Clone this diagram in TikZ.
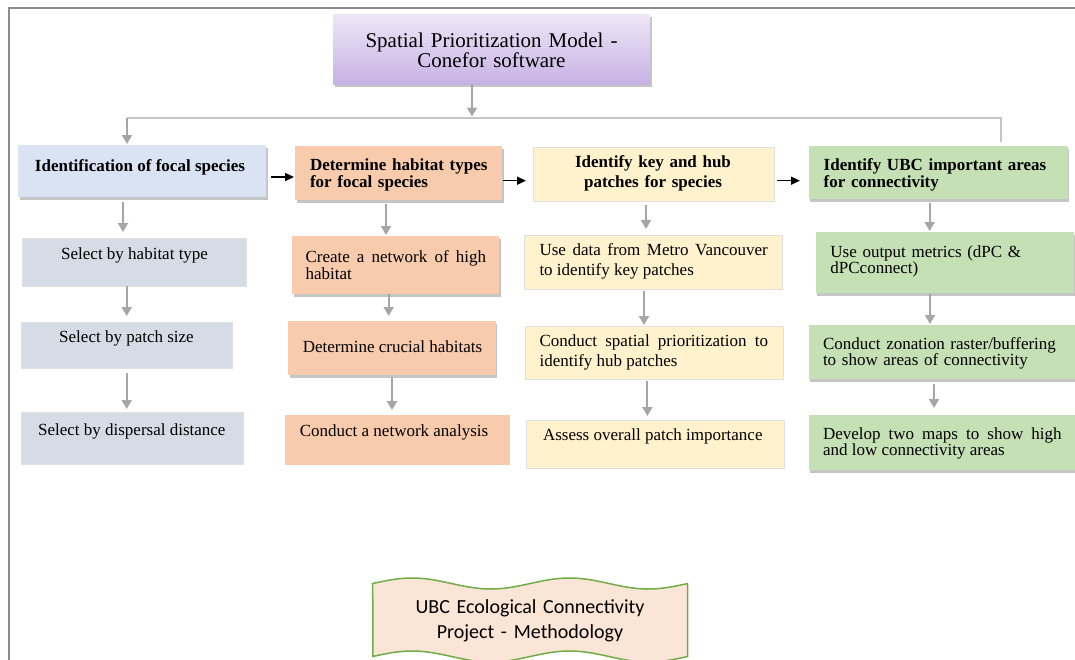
\documentclass[tikz,border=0pt]{standalone}
\usepackage{fontspec}
\setmainfont{Liberation Serif}
\newfontfamily\carlito{Carlito}
\usetikzlibrary{arrows.meta,shadows,fit}
\definecolor{blueH}{RGB}{218,227,243}
\definecolor{blueS}{RGB}{214,220,229}
\definecolor{orangeB}{RGB}{248,203,173}
\definecolor{yellowB}{RGB}{255,242,204}
\definecolor{greenB}{RGB}{197,224,180}
\definecolor{topT}{RGB}{238,231,247}
\definecolor{topB}{RGB}{199,178,228}
\definecolor{arrowgray}{RGB}{166,166,166}
\definecolor{linegray}{RGB}{196,196,196}
\definecolor{framegray}{RGB}{140,140,140}
\definecolor{waveFill}{RGB}{251,229,214}
\definecolor{waveLine}{RGB}{112,173,71}
\tikzset{
  box/.style={rectangle, inner sep=0pt, outer sep=0pt},
  shd/.style={drop shadow={shadow xshift=1.5pt, shadow yshift=-3pt, fill=black!45, opacity=0.5}},
  lightedge/.style={draw=black!12, line width=0.8pt},
  txt/.style={inner sep=0pt, outer sep=0pt, font=\fontsize{17}{15.3}\selectfont},
  garrow/.style={draw=arrowgray, line width=2pt, -{Triangle[width=10pt,length=9pt]}},
  barrow/.style={draw=black, line width=1.4pt, -{Triangle[width=8pt,length=9pt]}},
  gline/.style={draw=linegray, line width=1.5pt},
  framestyle/.style={draw=framegray, line width=2.2pt},
  wavestyle/.style={fill=waveFill, draw=waveLine, line width=1.5pt},
}
\begin{document}
\begin{tikzpicture}[x=1pt,y=-1pt]
\useasboundingbox (0,0) rectangle (1075,659);

% outer frame
\draw[framestyle] (9,670) -- (9,8) -- (1085,8);

% top box
\node[box, shd, top color=topT, bottom color=topB, fit={(333,14) (650,84)}] (top) {};
\node[txt, font=\fontsize{21}{16.7}\selectfont, anchor=base, text width=310pt, align=center] (ttop) at (491.5,47.3) {Spatial Prioritization Model -\\Conefor software};

% row 1 headers
\node[box, shd, fill=blueH, fit={(18.3,145) (266,197)}] (b1) {};
\node[box, shd, fill=orangeB, fit={(295,146) (502,200)}] (o1) {};
\node[box, lightedge, fill=yellowB, fit={(533.5,147) (774,201)}] (y1) {};
\node[box, shd, fill=greenB, fit={(808.5,146) (1067.7,199)}] (g1) {};

\node[txt, anchor=base] (tb1) at (140,171.7) {\bfseries Identification of focal species};
\node[txt, anchor=base west, text width=190pt, align=left] (to1) at (310,170.7) {\bfseries Determine habitat types\\for focal species};
\node[txt, font=\fontsize{17}{20}\selectfont, anchor=base, text width=230pt, align=center] (ty1) at (653,167) {\bfseries Identify key and hub\\patches for species};
\node[txt, anchor=base west, text width=240pt, align=left] (tg1) at (823.7,170.7) {\bfseries Identify UBC important areas\\for connectivity};

% row 2
\node[box, lightedge, fill=blueS, fit={(22.6,238) (246.6,286)}] (s1) {};
\node[box, shd, fill=orangeB, fit={(292,236) (499,294)}] (o2) {};
\node[box, lightedge, fill=yellowB, fit={(524,235) (782,289)}] (y2) {};
\node[box, shd, fill=greenB, fit={(815.6,232) (1074,293)}] (g2) {};

\node[txt, anchor=base] (ts1) at (134.6,259.3) {Select by habitat type};
\node[txt, font=\fontsize{17}{15}\selectfont, anchor=base west, text width=180.5pt, align=justify] (to2) at (305.5,262.7) {Create a network of high\linebreak habitat};
\node[txt, font=\fontsize{17}{20}\selectfont, anchor=base west, text width=228.3pt, align=justify] (ty2) at (539.5,255) {Use data from Metro Vancouver\linebreak to identify key patches};
\node[txt, font=\fontsize{17}{14.4}\selectfont, anchor=base west, text width=235pt, align=left] (tg2) at (830.4,257.3) {Use output metrics (dPC \&\\dPCconnect)};

% row 3
\node[box, lightedge, fill=blueS, fit={(21,322) (232,368)}] (s2) {};
\node[box, shd, fill=orangeB, fit={(288,321) (495.5,375)}] (o3) {};
\node[box, lightedge, fill=yellowB, fit={(525,326) (783.7,379)}] (y3) {};
\node[box, shd, fill=greenB, fit={(808.5,325) (1080,379)}] (g3) {};

\node[txt, anchor=base] (ts2) at (126.5,342.3) {Select by patch size};
\node[txt, anchor=base] (to3) at (392.5,352.7) {Determine crucial habitats};
\node[txt, font=\fontsize{17}{20}\selectfont, anchor=base west, text width=228.4pt, align=justify] (ty3) at (539.6,346) {Conduct spatial prioritization to\linebreak identify hub patches};
\node[txt, font=\fontsize{17}{15}\selectfont, anchor=base west, text width=245pt, align=left] (tg3) at (823,349.3) {Conduct zonation raster/buffering\\to show areas of connectivity};

% row 4
\node[box, lightedge, fill=blueS, fit={(21,412) (243,464)}] (s3) {};
\node[box, fill=orangeB, fit={(285,415) (510,465)}] (o4) {};
\node[box, lightedge, fill=yellowB, fit={(526.4,420) (784.8,468)}] (y4) {};
\node[box, shd, fill=greenB, fit={(808.5,415) (1080,470)}] (g4) {};

\node[txt, anchor=base] (ts3) at (131.8,435) {Select by dispersal distance};
\node[txt, anchor=base] (to4) at (394,436) {Conduct a network analysis};
\node[txt, anchor=base] (ty4) at (652.8,440.5) {Assess overall patch importance};
\node[txt, font=\fontsize{17}{14.7}\selectfont, anchor=base west, text width=238.6pt, align=justify] (tg4) at (823,439.3) {Develop two maps to show high\linebreak and low connectivity areas};

% distribution line from top box
\coordinate (hub) at (472,118);
\coordinate (lc) at (127,118);
\coordinate (rc) at (1001,118);
\draw[gline, shorten >=4pt] (lc) -- (rc) -- (g1.north -| rc);
\draw[garrow, shorten >=1.5pt] (top.south -| hub) -- (hub);
\draw[garrow, shorten >=1pt] (lc) -- (b1.north -| lc);

% gray arrows down each column
\draw[garrow, shorten <=5pt, shorten >=6pt] (b1.south -| 123,0) -- (s1.north -| 123,0);
\draw[garrow, shorten >=6pt] (s1.south -| 126.7,0) -- (s2.north -| 126.7,0);
\draw[garrow, shorten <=5pt, shorten >=3pt] (s2.south -| 126.7,0) -- (s3.north -| 126.7,0);

\draw[garrow, shorten <=4pt, shorten >=1pt] (o1.south -| 386,0) -- (o2.north -| 386,0);
\draw[garrow, shorten >=5pt] (o2.south -| 388.7,0) -- (o3.north -| 388.7,0);
\draw[garrow, shorten <=2pt, shorten >=5pt] (o3.south -| 392,0) -- (o4.north -| 392,0);

\draw[garrow, shorten <=4pt, shorten >=6pt] (y1.south -| 646,0) -- (y2.north -| 646,0);
\draw[garrow, shorten <=2pt, shorten >=1pt] (y2.south -| 644,0) -- (y3.north -| 644,0);
\draw[garrow, shorten <=2pt, shorten >=4pt] (y3.south -| 647.4,0) -- (y4.north -| 647.4,0);

\draw[garrow, shorten <=4pt, shorten >=1pt] (g1.south -| 929.6,0) -- (g2.north -| 929.6,0);
\draw[garrow, shorten <=1pt, shorten >=1pt] (g2.south -| 930,0) -- (g3.north -| 930,0);
\draw[garrow, shorten <=5pt, shorten >=7pt] (g3.south -| 934,0) -- (g4.north -| 934,0);

% black arrows between headers
\draw[barrow, shorten <=5pt, shorten >=1pt] (b1.east |- 0,177) -- (o1.west |- 0,177);
\draw[barrow, shorten <=1pt, shorten >=7.5pt] (o1.east |- 0,180.7) -- (y1.west |- 0,180.7);
\draw[barrow, shorten <=3pt, shorten >=8.5pt] (y1.east |- 0,180.7) -- (g1.west |- 0,180.7);

% bottom wave banner
\draw[wavestyle] plot[domain=0:1, samples=80, smooth] ({372.7+315*\x},{583.5-5.5*sin(720*\x)})
  -- plot[domain=1:0, samples=80, smooth] ({372.7+315*\x},{656.5-5.5*sin(720*\x)}) -- cycle;
\node[inner sep=0pt, anchor=base, text width=300pt, align=center, font=\carlito\fontsize{20}{25}\selectfont] (wavet) at (530,613.3) {UBC Ecological Connectivity\\Project - Methodology};
\end{tikzpicture}
\end{document}
